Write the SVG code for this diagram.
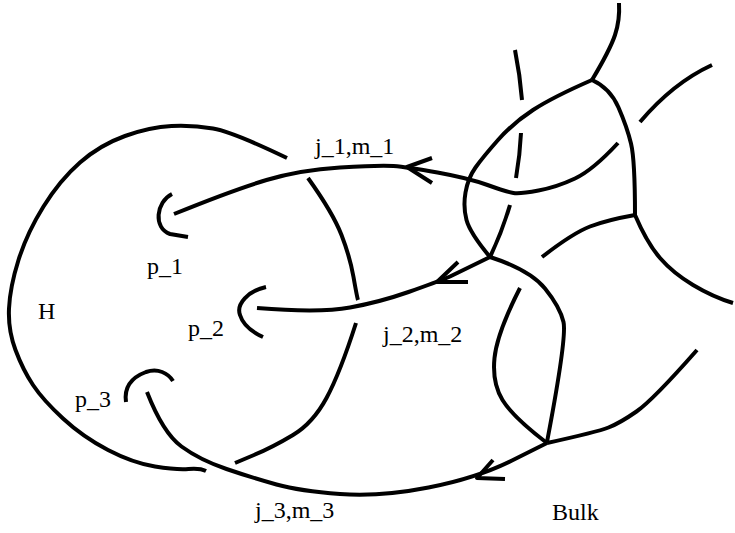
<svg xmlns="http://www.w3.org/2000/svg" width="735" height="533" viewBox="0 0 735 533">
<style>
.s{fill:none;stroke:#000;stroke-width:4;stroke-linejoin:round;stroke-linecap:butt}
.t{font-family:"Liberation Serif","Times New Roman",serif;font-size:24px;fill:#000}
</style>
<rect width="735" height="533" fill="#fff"/>
<g id="H">
<path class="s" d="M287,158 Q233,132 213,128.5 Q193,125 171.5,126 Q150,127 125,136 Q100,145 80,162.5 Q60,180 43.5,206.5 Q27,233 18.5,260 Q10,287 9,308.5 Q8,330 15.5,350 Q23,370 33,385 Q43,400 63,418.5 Q83,437 108,450 Q133,463 155,466.5 Q177,470 188.5,469 Q200,468 206,471"/>
<path class="s" d="M308,178 Q333,213 341.5,235 Q350,257 353.5,277 Q357,297 358,300"/>
<path class="s" d="M356,323 Q340,373 326.5,398 Q313,423 293,435 Q273,447 254,455 L235,463"/>
<text class="t" x="38" y="319">H</text>
</g>
<g id="p1">
<path class="s" d="M172,194 C156,202 153,228 170,234 L188,237"/>
<text class="t" x="147" y="274">p_1</text>
</g>
<g id="p2">
<path class="s" d="M266,287 C248,291 236,304 240,315 C243,325 252,332 263,337"/>
<text class="t" x="188" y="336">p_2</text>
</g>
<g id="p3">
<path class="s" d="M126,402 C124,388 130,378 146,372 C158,368 168,373 173,381"/>
<text class="t" x="75" y="407">p_3</text>
</g>
<g id="bulk">
<path class="s" d="M515,50 Q520,75 522,100"/>
<path class="s" d="M521,133 Q520,155 516,178"/>
<path class="s" d="M510,205 Q502,232 490,257"/>
<path class="s" d="M592,80 Q553,97 533,110 Q513,123 498,140 Q483,157 475.5,167.5 Q468,178 465.5,192.5 Q463,207 466.5,220 Q470,233 490,257"/>
<path class="s" d="M592,80 Q610,88 618.5,107.5 Q627,127 631,143.5 Q635,160 635,215"/>
<path class="s" d="M592,80 Q610,50 615,35 Q620,20 619,3"/>
<path class="s" d="M640,122 Q673,83 712,65"/>
<path class="s" d="M635,215 Q607,220 590,226.5 Q573,233 542,257"/>
<path class="s" d="M635,215 Q647,243 660,258 Q673,273 693,285 Q713,297 733,303"/>
<path class="s" d="M490,257 Q530,270 545,288.5 Q560,307 563.5,322 Q567,337 547,442"/>
<path class="s" d="M520,288 Q497,333 494.5,358 Q492,383 502.5,400 Q513,417 547,443"/>
<path class="s" d="M547,443 Q597,432 608.5,427.5 Q620,423 636.5,411.5 Q653,400 697,350"/>
<text class="t" x="552" y="520">Bulk</text>
</g>
<g id="connectors">
<path class="s" d="M174,214 Q233,190 266.5,180 Q300,170 340,167.5 Q380,165 393.5,166 Q407,167 437.5,172.5 Q468,178 487.5,185 Q507,192 513.5,193 Q520,194 538.5,190.5 Q557,187 575,178.5 Q593,170 618,143"/>
<path class="s" d="M432,158 L407,167 L432,183"/>
<path class="s" d="M257,308 Q320,313 350,307.5 Q380,302 408.5,292 Q437,282 450,276.5 L490,257"/>
<path class="s" d="M458,262 L437,282 L468,282"/>
<path class="s" d="M547,443 L512,460.5 Q477,478 428.5,487.5 Q380,497 340,494 Q300,491 276.5,484.5 Q253,478 226.5,469 Q200,460 181.5,446.5 Q163,433 147,392"/>
<path class="s" d="M493,460 L477,478 L505,479"/>
<text class="t" x="315" y="154">j_1,m_1</text>
<text class="t" x="383" y="342">j_2,m_2</text>
<text class="t" x="255" y="518">j_3,m_3</text>
</g>
</svg>
